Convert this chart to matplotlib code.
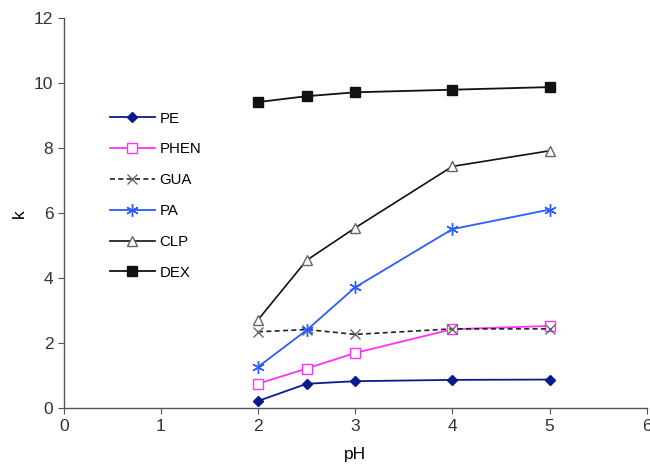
import matplotlib.pyplot as plt

plt.rcParams["font.family"] = ["Liberation Sans", "DejaVu Sans"]

ph = [2, 2.5, 3, 4, 5]
pe = [0.22, 0.75, 0.83, 0.87, 0.88]
phen = [0.75, 1.22, 1.70, 2.43, 2.53]
gua = [2.35, 2.42, 2.27, 2.44, 2.44]
pa = [1.27, 2.40, 3.72, 5.51, 6.11]
clp = [2.72, 4.55, 5.55, 7.44, 7.92]
dex = [9.42, 9.60, 9.72, 9.80, 9.88]

fig = plt.figure(figsize=(6.5, 4.67), dpi=100)
ax = fig.add_axes([0.098, 0.126, 0.897, 0.835])

ax.plot(ph, pe, color="#0a1a8c", marker="D", markersize=5, linewidth=1.3, label="PE")
ax.plot(ph, phen, color="#ff33ff", marker="s", markersize=7, markerfacecolor="white",
        markeredgecolor="#ff33ff", linewidth=1.3, label="PHEN")
ax.plot(ph, gua, color="#222222", linestyle="--", dashes=(3, 2), marker="x", markersize=7,
        markeredgecolor="#666666", linewidth=1.2, label="GUA")
ax.plot(ph, pa, color="#2a5cff", marker=(6, 2, 0), markersize=9, markeredgewidth=1.0,
        linewidth=1.3, label="PA")
ax.plot(ph, clp, color="#111111", marker="^", markersize=6.5, markerfacecolor="white",
        markeredgecolor="#666666", linewidth=1.2, label="CLP")
ax.plot(ph, dex, color="#111111", marker="s", markersize=7, linewidth=1.3, label="DEX")

ax.set_xlim(0, 6)
ax.set_ylim(0, 12)
ax.set_xticks(range(0, 7))
ax.set_yticks(range(0, 13, 2))
ax.set_xlabel("pH", fontsize=12.5, labelpad=10)
ax.set_ylabel("k", fontsize=12.5, labelpad=5)

for side in ["top", "right"]:
    ax.spines[side].set_visible(False)
for side in ["left", "bottom"]:
    ax.spines[side].set_color("#555555")
    ax.spines[side].set_linewidth(1.0)
ax.tick_params(axis="both", direction="out", length=4, color="#555555",
               labelsize=12.5, labelcolor="#333333")

ax.legend(loc="upper left", bbox_to_anchor=(0.056, 0.795), frameon=False,
          fontsize=10.8, handlelength=3.0, labelspacing=1.12, handletextpad=0.3)

fig.savefig("out.png", dpi=100)
